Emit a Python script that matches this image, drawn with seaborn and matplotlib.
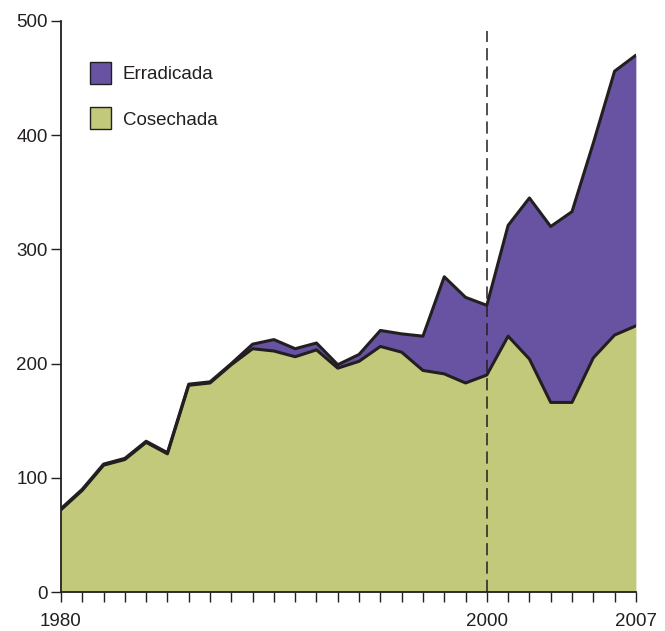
import matplotlib
matplotlib.use("Agg")
import numpy as np
import pandas as pd
import matplotlib.pyplot as plt
import seaborn as sns
from matplotlib.patches import Patch

# data (thousands of ha, roughly)
years = list(range(1980, 2008))
cosechada = [72, 89, 111, 116, 131, 121, 181, 183, 199, 213, 211, 206, 212, 196,
             202, 215, 210, 194, 191, 183, 190, 224, 204, 166, 166, 205, 225, 233]
erradicada = [1, 1, 1, 1, 1, 1, 1, 1, 1, 4, 10, 7, 6, 3,
              6, 14, 16, 30, 85, 75, 61, 97, 141, 154, 167, 188, 231, 237]
labeled_years = [1980, 2000, 2007]
y_ticks = [0, 100, 200, 300, 400, 500]

GREEN = "#C2C97A"
PURPLE = "#6853A3"
INK = "#231F20"

sns.set_style("ticks")
plt.rcParams["font.family"] = ["Liberation Sans", "DejaVu Sans"]

df = pd.DataFrame({"year": years, "cosechada": cosechada, "erradicada": erradicada})
df["total"] = df["cosechada"] + df["erradicada"]

fig = plt.figure(figsize=(6.65, 6.31), dpi=100)
ax = fig.add_axes([0.0917, 0.0618, 0.8645, 0.905])

ax.fill_between(df["year"], 0, df["cosechada"], color=GREEN, lw=0, zorder=1)
ax.fill_between(df["year"], df["cosechada"], df["total"], color=PURPLE, lw=0, zorder=1)
sns.lineplot(data=df, x="year", y="cosechada", color=INK, lw=2.2, ax=ax, zorder=3)
sns.lineplot(data=df, x="year", y="total", color=INK, lw=2.2, ax=ax, zorder=3)

ax.axvline(2000, ymin=0, ymax=0.983, color=INK, lw=1.1, ls=(0, (8, 4)), zorder=4)

ax.set_xlim(1980, 2007)
ax.set_ylim(0, 500)
ax.set_xticks(years)
ax.set_xticklabels([str(y) if y in labeled_years else "" for y in years])
ax.set_yticks(y_ticks)
ax.set_xlabel("")
ax.set_ylabel("")
ax.tick_params(axis="x", direction="out", length=7, width=1, color=INK,
               labelsize=13.5, labelcolor=INK, pad=8)
ax.tick_params(axis="y", direction="out", length=7.5, width=1, color=INK,
               labelsize=13.5, labelcolor=INK, pad=2)
for side in ["top", "right"]:
    ax.spines[side].set_visible(False)
for side in ["left", "bottom"]:
    ax.spines[side].set_color(INK)
    ax.spines[side].set_linewidth(1.3)

handles = [Patch(facecolor=PURPLE, edgecolor=INK, lw=1, label="Erradicada"),
           Patch(facecolor=GREEN, edgecolor=INK, lw=1, label="Cosechada")]
ax.legend(handles=handles, loc="upper left", bbox_to_anchor=(0.021, 0.957),
          frameon=False, fontsize=13.5, handlelength=1.15, handleheight=1.4,
          handletextpad=0.6, labelspacing=1.25, labelcolor=INK)

fig.savefig("out.png", dpi=100)
